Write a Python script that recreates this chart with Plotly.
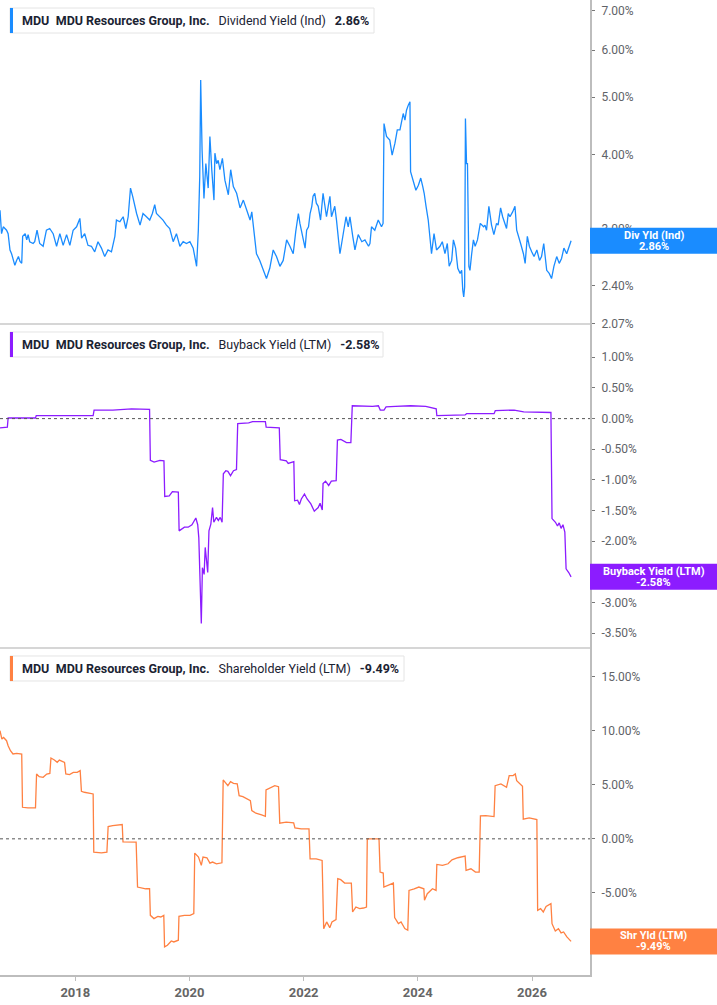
import math
import plotly.graph_objs as go

# --- data (percent) ---
div_dates = [
    '2016-09-06', '2016-09-16', '2016-09-27', '2016-10-18', '2016-10-28', '2016-11-09', '2016-11-19', '2016-11-30',
    '2016-12-10', '2016-12-21', '2017-01-02', '2017-01-12', '2017-01-23', '2017-01-29', '2017-02-14', '2017-02-24',
    '2017-03-05', '2017-03-15', '2017-04-06', '2017-04-16', '2017-05-01', '2017-05-18', '2017-06-09', '2017-06-30',
    '2017-07-21', '2017-08-12', '2017-09-03', '2017-09-24', '2017-10-15', '2017-11-06', '2017-11-27', '2017-12-18',
    '2018-01-09', '2018-01-30', '2018-02-10', '2018-03-02', '2018-03-23', '2018-04-14', '2018-05-05', '2018-05-26',
    '2018-06-17', '2018-07-08', '2018-07-29', '2018-08-20', '2018-09-11', '2018-09-21', '2018-10-13', '2018-11-03',
    '2018-11-20', '2018-12-05', '2018-12-20', '2019-01-03', '2019-01-17', '2019-01-28', '2019-02-19', '2019-03-10',
    '2019-04-01', '2019-04-22', '2019-05-09', '2019-05-24', '2019-06-04', '2019-06-25', '2019-07-16', '2019-08-07',
    '2019-08-28', '2019-09-19', '2019-10-10', '2019-11-01', '2019-11-22', '2019-12-13', '2020-01-04', '2020-01-25',
    '2020-02-16', '2020-02-27', '2020-03-07', '2020-03-13', '2020-03-22', '2020-04-03', '2020-04-15', '2020-04-30',
    '2020-05-11', '2020-05-23', '2020-06-06', '2020-06-12', '2020-06-23', '2020-07-03', '2020-07-14', '2020-07-30',
    '2020-08-15', '2020-09-06', '2020-09-21', '2020-10-08', '2020-10-29', '2020-11-20', '2020-12-11', '2021-01-02',
    '2021-01-23', '2021-02-03', '2021-02-18', '2021-03-05', '2021-03-26', '2021-04-17', '2021-05-08', '2021-05-29',
    '2021-06-20', '2021-07-11', '2021-08-02', '2021-08-23', '2021-09-14', '2021-10-05', '2021-10-26', '2021-11-11',
    '2021-11-28', '2021-12-08', '2021-12-19', '2021-12-30', '2022-01-10', '2022-01-20', '2022-02-01', '2022-02-11',
    '2022-02-22', '2022-03-02', '2022-03-13', '2022-03-23', '2022-04-04', '2022-04-19', '2022-05-05', '2022-05-16',
    '2022-05-27', '2022-06-07', '2022-06-18', '2022-06-28', '2022-07-19', '2022-07-30', '2022-08-21', '2022-09-01',
    '2022-09-12', '2022-09-29', '2022-10-13', '2022-10-24', '2022-11-11', '2022-11-25', '2022-12-16', '2023-01-08',
    '2023-01-28', '2023-02-20', '2023-03-01', '2023-03-11', '2023-04-01', '2023-04-23', '2023-05-14', '2023-05-24',
    '2023-05-30', '2023-06-15', '2023-07-06', '2023-07-21', '2023-08-08', '2023-08-23', '2023-09-09', '2023-09-30',
    '2023-10-11', '2023-10-21', '2023-11-02', '2023-11-12', '2023-11-16', '2023-12-03', '2023-12-20', '2024-01-05',
    '2024-01-20', '2024-02-02', '2024-02-11', '2024-02-23', '2024-03-08', '2024-03-29', '2024-04-14', '2024-04-30',
    '2024-05-22', '2024-06-06', '2024-06-23', '2024-07-08', '2024-07-20', '2024-08-05', '2024-08-16', '2024-08-30',
    '2024-09-13', '2024-09-28', '2024-10-08', '2024-10-15', '2024-10-21', '2024-10-27', '2024-11-01', '2024-11-08',
    '2024-11-14', '2024-11-23', '2024-11-30', '2024-12-11', '2024-12-22', '2025-01-02', '2025-01-17', '2025-02-04',
    '2025-02-25', '2025-03-06', '2025-03-16', '2025-03-31', '2025-04-17', '2025-05-02', '2025-05-19', '2025-05-29',
    '2025-06-14', '2025-06-27', '2025-07-11', '2025-07-22', '2025-08-02', '2025-08-13', '2025-08-30', '2025-09-14',
    '2025-09-25', '2025-10-08', '2025-10-20', '2025-11-07', '2025-11-18', '2025-12-02', '2025-12-15', '2025-12-30',
    '2026-01-14', '2026-02-01', '2026-02-18', '2026-03-03', '2026-03-17', '2026-04-05', '2026-04-21', '2026-05-06',
    '2026-05-21', '2026-06-08', '2026-06-24', '2026-07-09', '2026-07-24', '2026-08-11', '2026-08-28', '2026-09-08',
]
div_yield = [
    3.22, 2.94, 3.02, 2.98, 2.94, 2.76, 2.72, 2.65,
    2.60, 2.65, 2.69, 2.64, 2.62, 2.91, 2.94, 2.87,
    2.93, 2.85, 2.83, 2.85, 2.98, 2.83, 2.80, 2.98,
    3.00, 2.94, 2.80, 2.94, 2.81, 2.93, 2.81, 2.98,
    3.02, 3.12, 2.89, 2.94, 2.81, 2.80, 2.74, 2.85,
    2.78, 2.69, 2.76, 2.74, 2.91, 3.10, 3.08, 3.14,
    3.00, 3.14, 3.51, 3.40, 3.27, 3.18, 3.04, 3.18,
    3.14, 3.10, 3.18, 3.29, 3.18, 3.14, 3.10, 3.04,
    3.00, 2.85, 2.94, 2.80, 2.85, 2.83, 2.85, 2.78,
    2.59, 2.98, 3.67, 5.34, 4.07, 3.37, 3.86, 3.51,
    4.29, 3.77, 3.35, 4.02, 3.86, 3.91, 3.77, 3.94,
    3.62, 3.42, 3.77, 3.53, 3.44, 3.25, 3.35, 3.22,
    3.10, 3.20, 2.94, 2.72, 2.65, 2.55, 2.47, 2.57,
    2.76, 2.69, 2.59, 2.65, 2.87, 2.80, 2.72, 2.96,
    3.18, 3.06, 2.94, 2.87, 2.78, 2.98, 3.02, 3.18,
    3.27, 3.40, 3.44, 3.31, 3.27, 3.10, 3.44, 3.27,
    3.14, 3.27, 3.40, 3.14, 3.27, 3.10, 2.72, 2.83,
    2.94, 3.14, 3.02, 3.14, 2.91, 2.76, 2.93, 2.85,
    2.87, 2.80, 2.83, 3.02, 2.98, 3.10, 3.02, 3.06,
    4.51, 4.29, 4.23, 3.99, 4.18, 4.40, 4.40, 4.69,
    4.57, 4.75, 4.85, 4.91, 3.74, 3.62, 3.48, 3.55,
    3.65, 3.53, 3.44, 3.27, 3.10, 2.72, 2.94, 2.76,
    2.80, 2.85, 2.72, 2.83, 2.59, 2.65, 2.87, 2.78,
    2.57, 2.52, 2.55, 2.36, 2.30, 2.39, 4.60, 3.86,
    3.86, 2.59, 2.55, 2.72, 2.87, 2.80, 2.87, 3.06,
    3.02, 3.04, 2.98, 3.27, 3.04, 2.93, 3.06, 3.04,
    3.25, 3.14, 3.06, 3.00, 3.18, 3.14, 3.20, 3.27,
    2.98, 2.91, 2.83, 2.72, 2.62, 2.91, 2.80, 2.74,
    2.69, 2.76, 2.65, 2.69, 2.83, 2.55, 2.52, 2.47,
    2.59, 2.69, 2.62, 2.67, 2.78, 2.72, 2.81, 2.86,
]

bb_dates = [
    '2016-09-06', '2016-10-23', '2016-10-28', '2017-04-21', '2017-04-26', '2018-04-25', '2018-05-01', '2018-08-29',
    '2018-12-27', '2019-04-21', '2019-04-26', '2019-05-20', '2019-06-26', '2019-07-22', '2019-07-27', '2019-08-25',
    '2019-09-14', '2019-10-22', '2019-10-27', '2019-11-30', '2019-12-24', '2020-01-17', '2020-02-11', '2020-02-23',
    '2020-03-01', '2020-03-10', '2020-03-17', '2020-03-24', '2020-04-04', '2020-04-11', '2020-04-18', '2020-04-27',
    '2020-05-05', '2020-05-17', '2020-05-28', '2020-06-05', '2020-06-22', '2020-07-04', '2020-07-16', '2020-07-28',
    '2020-08-05', '2020-08-21', '2020-09-03', '2020-09-20', '2020-10-09', '2020-10-28', '2020-11-05', '2021-01-14',
    '2021-02-08', '2021-05-01', '2021-05-06', '2021-07-29', '2021-08-04', '2021-09-12', '2021-09-24', '2021-10-30',
    '2021-11-04', '2021-11-23', '2021-12-05', '2021-12-17', '2022-01-06', '2022-01-23', '2022-02-16', '2022-03-10',
    '2022-04-04', '2022-04-16', '2022-04-30', '2022-05-05', '2022-05-21', '2022-06-10', '2022-06-27', '2022-07-28',
    '2022-08-05', '2022-08-27', '2022-10-02', '2022-10-30', '2022-11-08', '2023-01-07', '2023-03-18', '2023-04-24',
    '2023-05-06', '2023-05-30', '2023-06-12', '2023-08-11', '2023-11-16', '2024-02-21', '2024-04-28', '2024-05-02',
    '2024-10-30', '2024-11-08', '2025-05-03', '2025-05-11', '2025-09-09', '2025-11-09', '2026-05-02', '2026-05-09',
    '2026-05-31', '2026-06-13', '2026-06-24', '2026-07-06', '2026-07-18', '2026-07-30', '2026-08-07', '2026-08-24',
    '2026-09-08',
]
bb_yield = [
    -0.15, -0.14, 0.01, 0.01, 0.05, 0.05, 0.14, 0.14,
    0.16, 0.15, -0.68, -0.71, -0.68, -0.69, -1.27, -1.26,
    -1.19, -1.20, -1.83, -1.77, -1.77, -1.73, -1.62, -1.73,
    -1.94, -2.75, -3.34, -2.43, -2.54, -2.10, -2.35, -2.51,
    -1.83, -1.72, -1.45, -1.69, -1.61, -1.66, -1.61, -1.69,
    -0.90, -0.85, -0.86, -0.93, -0.85, -0.83, -0.08, -0.07,
    -0.05, -0.05, -0.14, -0.15, -0.67, -0.69, -0.73, -0.70,
    -1.34, -1.33, -1.40, -1.31, -1.23, -1.31, -1.39, -1.51,
    -1.45, -1.38, -1.49, -1.06, -1.02, -1.09, -1.02, -1.01,
    -0.35, -0.34, -0.39, -0.39, 0.21, 0.20, 0.20, 0.21,
    0.14, 0.14, 0.19, 0.20, 0.21, 0.20, 0.16, 0.05,
    0.06, 0.08, 0.08, 0.13, 0.14, 0.11, 0.10, -1.63,
    -1.69, -1.75, -1.70, -1.79, -1.73, -1.85, -2.45, -2.51,
    -2.58,
]

sh_dates = [
    '2016-09-06', '2016-09-18', '2016-09-29', '2016-10-18', '2016-10-28', '2016-11-12', '2016-11-28', '2016-12-22',
    '2017-01-23', '2017-01-28', '2017-03-04', '2017-04-21', '2017-04-28', '2017-05-15', '2017-06-09', '2017-07-02',
    '2017-07-22', '2017-07-29', '2017-08-20', '2017-09-07', '2017-09-21', '2017-10-07', '2017-10-24', '2017-11-01',
    '2017-11-25', '2017-12-19', '2018-01-13', '2018-02-01', '2018-02-09', '2018-02-28', '2018-04-06', '2018-04-25',
    '2018-04-29', '2018-06-17', '2018-07-22', '2018-07-30', '2018-08-28', '2018-10-04', '2018-10-28', '2018-11-02',
    '2018-12-15', '2019-01-25', '2019-02-03', '2019-02-26', '2019-03-27', '2019-04-21', '2019-04-26', '2019-05-19',
    '2019-06-13', '2019-07-02', '2019-07-21', '2019-07-26', '2019-08-13', '2019-09-07', '2019-09-23', '2019-10-22',
    '2019-10-26', '2019-11-30', '2020-01-05', '2020-01-29', '2020-02-04', '2020-02-28', '2020-03-17', '2020-03-28',
    '2020-04-22', '2020-05-11', '2020-05-28', '2020-06-22', '2020-07-27', '2020-08-04', '2020-08-21', '2020-09-03',
    '2020-09-20', '2020-10-09', '2020-11-02', '2020-11-14', '2020-12-08', '2021-01-02', '2021-01-25', '2021-02-03',
    '2021-03-01', '2021-04-07', '2021-05-01', '2021-05-05', '2021-06-06', '2021-06-30', '2021-07-24', '2021-08-01',
    '2021-09-11', '2021-10-29', '2021-11-06', '2021-12-16', '2022-02-04', '2022-02-11', '2022-03-22', '2022-04-29',
    '2022-05-09', '2022-05-28', '2022-06-17', '2022-07-01', '2022-07-27', '2022-08-07', '2022-08-26', '2022-09-20',
    '2022-11-02', '2022-11-10', '2022-12-01', '2022-12-25', '2023-01-19', '2023-02-07', '2023-02-12', '2023-03-18',
    '2023-04-28', '2023-05-05', '2023-05-25', '2023-05-29', '2023-06-23', '2023-07-29', '2023-08-06', '2023-08-30',
    '2023-09-16', '2023-10-10', '2023-10-29', '2023-11-06', '2023-12-09', '2024-01-08', '2024-02-09', '2024-02-13',
    '2024-03-02', '2024-04-04', '2024-04-27', '2024-05-02', '2024-06-07', '2024-07-13', '2024-08-07', '2024-09-13',
    '2024-10-30', '2024-11-05', '2024-12-06', '2025-01-04', '2025-01-28', '2025-02-05', '2025-03-11', '2025-05-03',
    '2025-05-10', '2025-06-16', '2025-07-22', '2025-08-08', '2025-09-02', '2025-09-16', '2025-09-25', '2025-10-15',
    '2025-11-01', '2025-11-06', '2025-12-14', '2026-02-01', '2026-02-06', '2026-02-25', '2026-03-14', '2026-04-01',
    '2026-05-02', '2026-05-09', '2026-05-30', '2026-06-19', '2026-07-06', '2026-07-22', '2026-08-12', '2026-09-08',
]
sh_yield = [
    10.0, 9.23, 9.38, 9.08, 8.62, 8.15, 7.85, 7.91,
    7.85, 2.92, 2.86, 2.86, 6.00, 5.75, 5.69, 6.00,
    6.06, 7.48, 7.29, 7.08, 7.29, 7.17, 7.08, 6.00,
    5.94, 6.15, 6.15, 6.31, 4.40, 4.31, 4.22, 4.15,
    -1.23, -1.29, -1.23, 1.14, 1.23, 1.32, 1.32, -0.28,
    -0.28, -0.31, -4.46, -4.55, -4.62, -4.62, -7.08, -7.38,
    -7.17, -7.23, -7.08, -10.0, -9.85, -9.45, -9.54, -9.38,
    -7.17, -7.08, -7.08, -6.92, -1.32, -1.69, -2.46, -1.69,
    -1.75, -2.25, -2.15, -2.31, -2.22, 5.45, 5.08, 4.92,
    5.29, 5.14, 5.08, 4.00, 3.91, 3.69, 3.54, 2.62,
    2.37, 2.22, 2.09, 4.52, 4.77, 4.92, 4.83, 1.45,
    1.54, 1.48, 1.02, 0.92, 0.92, -1.85, -1.85, -2.00,
    -8.31, -7.69, -8.22, -7.69, -7.48, -3.69, -3.78, -4.09,
    -4.09, -6.77, -6.31, -6.46, -6.40, -6.31, 0.00, 0.00,
    0.00, -3.08, -3.17, -4.46, -4.31, -4.09, -7.29, -7.85,
    -7.69, -8.31, -8.46, -4.77, -4.62, -4.46, -4.62, -5.69,
    -5.08, -4.62, -4.77, -2.37, -2.46, -2.31, -1.94, -1.75,
    -1.60, -2.92, -2.77, -3.08, -3.08, 2.12, 2.15, 2.06,
    4.92, 5.08, 4.77, 5.85, 5.85, 6.00, 5.38, 5.08,
    4.86, 1.82, 1.94, 1.78, -6.62, -6.46, -6.77, -6.25,
    -6.00, -7.85, -8.52, -8.31, -8.71, -8.62, -9.08, -9.49,
]

div_ticks = [2.07, 2.40, 3.00, 4.00, 5.00, 6.00, 7.00]
bb_ticks = [1.0, 0.5, 0.0, -0.5, -1.0, -1.5, -2.0, -2.5, -3.0, -3.5]
sh_ticks = [15, 10, 5, 0, -5, -10]
year_ticks = ['2018', '2020', '2022', '2024', '2026']

ticker = 'MDU'
company = 'MDU Resources Group, Inc.'

FONT = 'Roboto, Inter, sans-serif'
TEXT = '#1b2333'
BLUE, PURPLE, ORANGE = '#1a8cff', '#8c1cff', '#ff8142'

# y ranges of the three panels (log10 for the dividend panel)
div_range = [math.log10(2.07), math.log10(7.29)]
bb_range = [-3.74, 1.543]
sh_range = [-12.6, 17.66]

panels = [
    # metric name, badge label, colour, y axis, series, axis range, log axis
    ('Dividend Yield (Ind)', 'Div Yld (Ind)', BLUE, 'y', div_yield, div_range, True),
    ('Buyback Yield (LTM)', 'Buyback Yield (LTM)', PURPLE, 'y2', bb_yield, bb_range, False),
    ('Shareholder Yield (LTM)', 'Shr Yld (LTM)', ORANGE, 'y3', sh_yield, sh_range, False),
]
box_widths = [364, 373, 394]

data = [
    go.Scatter(x=div_dates, y=div_yield, mode='lines', yaxis='y',
               line=dict(color=BLUE, width=1.3)),
    go.Scatter(x=bb_dates, y=bb_yield, mode='lines', yaxis='y2',
               line=dict(color=PURPLE, width=1.3)),
    go.Scatter(x=sh_dates, y=sh_yield, mode='lines', yaxis='y3',
               line=dict(color=ORANGE, width=1.3)),
]


def yax(domain, ticks, rng, log=False):
    return dict(
        domain=domain, anchor='x', side='right',
        type='log' if log else 'linear', range=rng,
        tickvals=ticks, ticktext=['%.2f%%' % t for t in ticks],
        showline=True, linecolor='#bdbdbd', linewidth=2,
        ticks='outside', ticklen=3, tickwidth=1, tickcolor='#777777',
        ticklabelstandoff=4,
        tickfont=dict(family=FONT, size=12, color='#5f6368'),
        showgrid=False, zeroline=False, fixedrange=True,
    )


shapes = []
annotations = []

# panel separators and dotted zero lines
for ref in ['y', 'y2']:
    shapes.append(dict(type='line', xref='paper', x0=0, x1=1, yref=ref + ' domain', y0=0, y1=0,
                       line=dict(color='#c8c8c8', width=1.5)))
for ref in ['y2', 'y3']:
    shapes.append(dict(type='line', xref='paper', x0=0, x1=1, yref=ref, y0=0, y1=0,
                       line=dict(color='#555555', width=1, dash='dot')))

for (metric, badge, color, ref, series, rng, log), bw in zip(panels, box_widths):
    last = series[-1]
    # header box
    shapes.append(dict(type='rect', xref='paper', xsizemode='pixel', xanchor=0, x0=10, x1=10 + bw,
                       yref=ref + ' domain', ysizemode='pixel', yanchor=1, y0=-8, y1=-33,
                       fillcolor='white', line=dict(color='#e4e4e4', width=1), layer='above'))
    shapes.append(dict(type='rect', xref='paper', xsizemode='pixel', xanchor=0, x0=10, x1=13,
                       yref=ref + ' domain', ysizemode='pixel', yanchor=1, y0=-8, y1=-33,
                       fillcolor=color, line=dict(width=0), layer='above'))
    annotations.append(dict(
        xref='paper', x=0, xshift=20, xanchor='left',
        yref=ref + ' domain', y=1, yshift=-20.5, yanchor='middle', showarrow=False,
        text='<b>%s</b>\u2002<b>%s</b>\u2002\u2009%s\u2002\u2009<b>%.2f%%</b>' % (ticker, company, metric, last),
        font=dict(family=FONT, size=12.5, color=TEXT)))
    # value badge on the axis, placed at the last value's spot in the panel
    yv = math.log10(last) if log else last
    frac = (yv - rng[0]) / (rng[1] - rng[0])
    shapes.append(dict(type='rect', xref='paper', xsizemode='pixel', xanchor=1, x0=0, x1=127,
                       yref=ref + ' domain', ysizemode='pixel', yanchor=frac, y0=-13, y1=13,
                       fillcolor=color, line=dict(width=0), layer='above'))
    annotations.append(dict(xref='paper', x=1, xshift=63.5, xanchor='center',
                            yref=ref + ' domain', y=frac, yshift=5.5,
                            yanchor='middle', showarrow=False, text='<b>%s</b>' % badge,
                            font=dict(family=FONT, size=11, color='white')))
    annotations.append(dict(xref='paper', x=1, xshift=63.5, xanchor='center',
                            yref=ref + ' domain', y=frac, yshift=-5.5,
                            yanchor='middle', showarrow=False, text='<b>%.2f%%</b>' % last,
                            font=dict(family=FONT, size=11, color='white')))

layout = go.Layout(
    width=717, height=1005,
    margin=dict(l=0, r=127, t=0, b=30),
    paper_bgcolor='white', plot_bgcolor='white',
    showlegend=False,
    font=dict(family=FONT),
    xaxis=dict(
        anchor='y3', domain=[0, 1], type='date',
        range=['2016-09-06', '2027-01-07'],
        tickvals=[y + '-01-01' for y in year_ticks], ticktext=year_ticks,
        showline=True, linecolor='#bdbdbd', linewidth=2,
        ticks='outside', ticklen=4, tickcolor='#bdbdbd',
        tickfont=dict(family=FONT, size=13, color='#666666', weight='bold'),
        showgrid=False, zeroline=False, fixedrange=True,
    ),
    yaxis=yax([0.6677, 1], div_ticks, div_range, log=True),
    yaxis2=yax([0.3354, 0.6677], bb_ticks, bb_range),
    yaxis3=yax([0, 0.3354], sh_ticks, sh_range),
    shapes=shapes,
    annotations=annotations,
)

fig = go.Figure(data=data, layout=layout)
# page body has a default 8px margin; drop it so the chart sits at the window corner
fig.write_html('out.html', config={'displayModeBar': False},
               post_script="document.body.style.margin='0px';")
